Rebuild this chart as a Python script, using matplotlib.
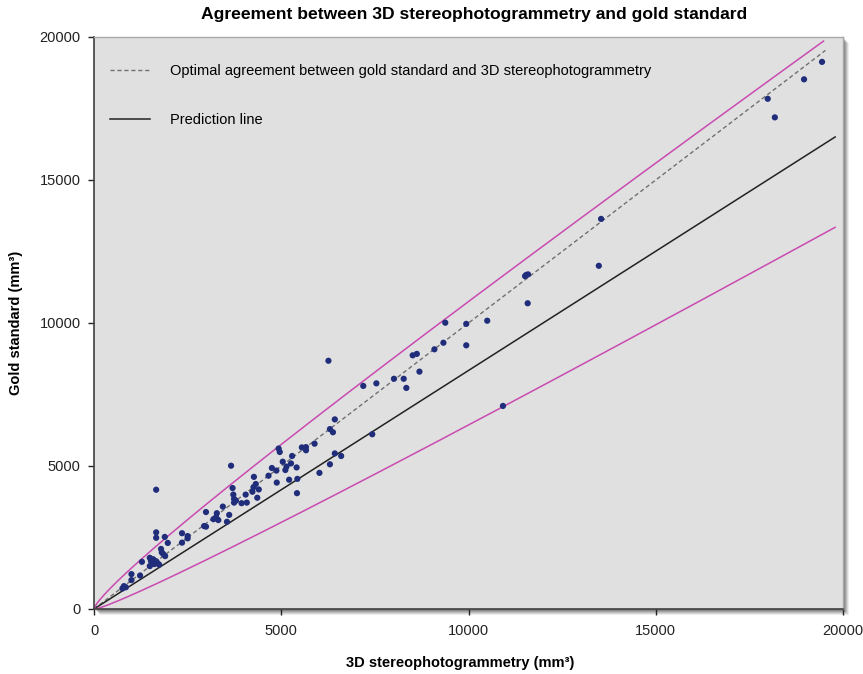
import numpy as np
import matplotlib
matplotlib.use("Agg")
import matplotlib.pyplot as plt
from matplotlib.patches import Rectangle
from matplotlib.lines import Line2D

plt.rcParams['font.family'] = ['Liberation Sans', 'DejaVu Sans']

# ---- data (mm^3) ----
stereo = [19440, 18960, 17990, 18180, 13540, 13480, 11540, 11590, 11510, 11580,
          10920, 10500, 9940, 9940, 9380, 9330, 9090, 8510, 8620, 8690,
          8010, 8270, 8340, 7540, 7190, 7430, 6260, 6430, 6300, 6380,
          5890, 5550, 5660, 5660, 4930, 4960, 3660, 5290, 6430, 6600,
          6300, 6020, 5040, 5260, 4750, 4870, 5140, 5110, 5410, 4660,
          4270, 5210, 5430, 4880, 5420, 4320, 4260, 4400, 4230, 3700,
          3720, 4050, 4360, 3740, 3790, 3740, 3940, 4080, 3610, 3550,
          3440, 3280, 3320, 3190, 3260, 2990, 2940, 2990, 2350, 2500,
          2500, 2350, 1970, 1890, 1660, 1660, 1660, 1790, 1850, 1810,
          1900, 1280, 1490, 1580, 1660, 1520, 1700, 1490, 1610, 1000,
          1230, 1000, 800, 760, 850, 1740]
gold = [19130, 18520, 17840, 17190, 13640, 12000, 11680, 11700, 11640, 10690,
        7100, 10080, 9970, 9220, 10010, 9310, 9080, 8870, 8920, 8300,
        8050, 8050, 7730, 7890, 7800, 6110, 8680, 6630, 6290, 6180,
        5780, 5650, 5660, 5550, 5610, 5490, 5010, 5350, 5440, 5350,
        5060, 4760, 5150, 5090, 4930, 4840, 4980, 4860, 4950, 4660,
        4620, 4520, 4550, 4420, 4050, 4370, 4260, 4180, 4100, 4230,
        4000, 4000, 3890, 3850, 3790, 3720, 3700, 3720, 3290, 3050,
        3580, 3350, 3110, 3140, 3210, 3390, 2900, 2880, 2650, 2550,
        2470, 2320, 2310, 2520, 2680, 2490, 4170, 2100, 1920, 1980,
        1850, 1650, 1790, 1740, 1670, 1680, 1600, 1500, 1570, 1220,
        1170, 1010, 800, 720, 760, 1550]

# fitted prediction line and prediction limits
pred_slope = 0.834
upper_coef, upper_exp = 9.08, 0.606
lower_coef, lower_exp = 2.09, 0.74
end_identity = 19530
end_upper = 19480
end_pred = 19790

title = "Agreement between 3D stereophotogrammetry and gold standard"
xlabel = "3D stereophotogrammetry (mm\u00b3)"
ylabel = "Gold standard (mm\u00b3)"
legend_labels = ["Optimal agreement between gold standard and 3D stereophotogrammetry",
                 "Prediction line"]
ticks = [0, 5000, 10000, 15000, 20000]

W, H = 863, 674
fig = plt.figure(figsize=(W / 100, H / 100), dpi=100)
fig.patch.set_facecolor('white')
l, r, t, b = 94, 843, 37, 609
ax = fig.add_axes([l / W, 1 - b / H, (r - l) / W, (b - t) / H])
ax.set_facecolor('#e0e0e0')

# drop shadow
for off, a in [(6, 0.10), (5, 0.15), (4, 0.2), (3, 0.25), (2, 0.3)]:
    fig.patches.append(Rectangle(((l + off) / W, 1 - (b + off) / H), (r - l) / W, (b - t) / H,
                                 transform=fig.transFigure, facecolor='#555555', alpha=a,
                                 edgecolor='none', zorder=-1))

xi = np.linspace(0, end_identity, 300)
ax.plot(xi, xi, color='#707070', lw=1.0, ls=(0, (3, 2)), zorder=2)
xp = np.linspace(0, end_pred, 500)
ax.plot(xp, pred_slope * xp, color='#222222', lw=1.1, zorder=2)
ax.plot(xp, pred_slope * xp - lower_coef * xp ** lower_exp, color='#c94bb0', lw=1.1, zorder=2)
xu = np.linspace(0, end_upper, 500)
ax.plot(xu, pred_slope * xu + upper_coef * xu ** upper_exp, color='#c94bb0', lw=1.1, zorder=2)

ax.scatter(stereo, gold, s=20, color='#1f2d7b', edgecolors='none', zorder=3)

ax.set_xlim(0, 20000)
ax.set_ylim(0, 20000)
ax.set_xticks(ticks)
ax.set_yticks(ticks)
ax.set_xticklabels([str(v) for v in ticks])
ax.set_yticklabels([str(v) for v in ticks])
ax.tick_params(axis='both', direction='out', length=4, width=1, labelsize=10.5,
               colors='#222222')
ax.tick_params(axis='x', pad=6.5)
ax.tick_params(axis='y', pad=5.5)
for s in ['left', 'bottom']:
    ax.spines[s].set_color('#404040')
    ax.spines[s].set_linewidth(1.2)
for s in ['top', 'right']:
    ax.spines[s].set_color('#a8a8a8')
    ax.spines[s].set_linewidth(1.0)

handles = [Line2D([], [], color='#707070', lw=1.0, ls=(0, (3, 2))),
           Line2D([], [], color='#222222', lw=1.1)]
ax.legend(handles, legend_labels, loc='upper left', bbox_to_anchor=(0.0214, 0.9525),
          frameon=False, fontsize=10.5, handlelength=2.75, handletextpad=1.35,
          labelspacing=2.4, borderpad=0, borderaxespad=0)

fig.text(474 / W, 1 - 14 / H, title, ha='center', va='center',
         fontsize=12.6, fontweight='bold')
fig.text(460 / W, 1 - 663 / H, xlabel, ha='center', va='center',
         fontsize=10.5, fontweight='bold')
fig.text(16 / W, 1 - 323 / H, ylabel, ha='center', va='center', rotation=90,
         fontsize=10.5, fontweight='bold')

fig.savefig('out.png', dpi=100)
